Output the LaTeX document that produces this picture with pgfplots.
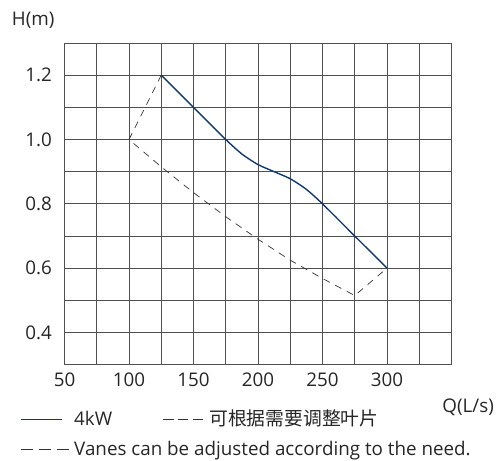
\documentclass[border=0pt]{standalone}
\usepackage{pgfplots}
\pgfplotsset{compat=1.18}
\usepackage{fontspec}
\setmainfont{Open Sans}
\newfontfamily\cjk{Noto Sans CJK SC}
\definecolor{curveblue}{RGB}{16,56,110}
\definecolor{gridgray}{RGB}{80,80,80}
\begin{document}
\begin{tikzpicture}[font=\fontsize{18.8}{21}\selectfont]
\begin{axis}[
  scale only axis, width=387pt, height=321.7pt,
  xmin=50, xmax=350, ymin=0.3, ymax=1.3,
  xtick={50,100,...,300}, minor xtick={75,125,...,325},
  ytick={0.4,0.6,...,1.2}, minor ytick={0.5,0.7,0.9,1.1},
  grid=both,
  major grid style={gridgray, line width=0.8pt},
  minor grid style={gridgray, line width=0.8pt},
  axis line style={gridgray, line width=0.8pt},
  major tick length=0pt, minor tick length=0pt,
  /pgf/number format/assume math mode=true,
  /pgf/number format/fixed, /pgf/number format/fixed zerofill,
  /pgf/number format/precision=1,
  xticklabel style={/pgf/number format/precision=0, yshift=-5pt, text=black!85},
  yticklabel style={xshift=-9pt, text=black!85},
  xlabel={Q(L/s)},
  x label style={at={(xticklabel cs:1.043)}, anchor=near xticklabel, yshift=-5pt, text=black!85},
  ylabel={H(m)},
  y label style={at={(axis description cs:-0.081,1.0715)}, rotate=-90, anchor=center, text=black!85},
]
\addplot[curveblue, line width=1.4pt, smooth, tension=0.4] coordinates {
(125,1.2) (150,1.1) (175,1.0) (187.5,0.955) (200,0.922) (212.5,0.9) (225,0.878) (237.5,0.845) (250,0.8) (275,0.7) (300,0.6)};
\addplot[black!80, line width=0.7pt, dash pattern=on 7pt off 6pt] coordinates {
(125,1.2) (100,1.0) (125,0.915) (150,0.835) (175,0.76) (200,0.69) (225,0.625) (250,0.568) (275,0.515) (300,0.6)};
\end{axis}
% legend
\begin{scope}[every node/.style={anchor=base west, inner sep=0pt, text=black!85}]
\draw[curveblue, line width=1.4pt] (-43.8pt,-55pt) -- (-2.8pt,-55pt);
\node at (9.5pt,-61pt) {4kW};
\draw[black!80, line width=0.9pt, dash pattern=on 10.5pt off 4.3pt] (98.5pt,-55pt) -- (138.6pt,-55pt);
\node at (144.5pt,-61pt) {\cjk 可根据需要调整叶片};
\draw[black!80, line width=0.9pt, dash pattern=on 12.5pt off 5.5pt] (-43.8pt,-84.5pt) -- (5.2pt,-84.5pt);
\node at (9.5pt,-90.3pt) {Vanes can be adjusted according to the need.};
\end{scope}
\pgfresetboundingbox
\path[use as bounding box] (-64.5pt,-95.3pt) rectangle (432.5pt,364.7pt);
\end{tikzpicture}
\end{document}
